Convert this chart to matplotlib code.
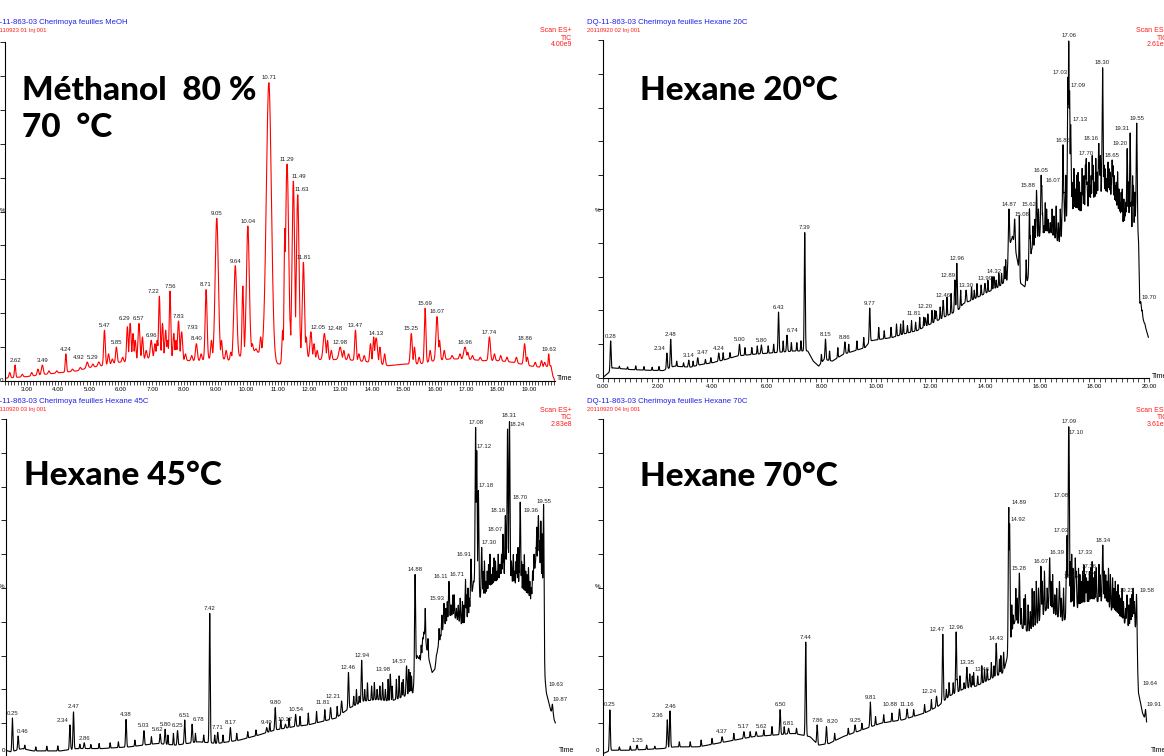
import numpy as np
import matplotlib.pyplot as plt
from matplotlib.ticker import MultipleLocator, FormatStrFormatter

W, H = 1164, 756
SMALL = 'Liberation Sans'

# ---------------- Méthanol 80 %, 70 °C (red trace) ----------------
meoh_base_t = [2.30, 2.55, 3.0, 3.6, 4.1, 4.6, 5.0, 5.4, 5.9, 6.5, 7.0, 7.5, 8.0, 8.5, 9.0, 9.5,
               10.2, 10.5, 10.9, 11.1, 11.5, 12.0, 12.5, 13.0, 13.5, 14.0, 14.5, 15.0, 15.5,
               16.0, 16.5, 17.0, 17.5, 18.0, 18.5, 19.0, 19.4, 19.7, 19.76, 19.83]
meoh_base_y = [0.8, 1.0, 1.3, 2.0, 2.5, 3.0, 4.0, 4.5, 5.5, 6.0, 7.0, 7.0, 6.0, 6.0, 7.0, 6.0,
               9.0, 8.0, 5.0, 5.0, 8.0, 7.0, 6.0, 6.5, 6.0, 5.5, 4.5, 5.0, 5.0,
               6.0, 6.5, 6.5, 6.0, 6.0, 5.5, 4.5, 4.0, 4.5, 1.5, 0.0]
meoh_peak_t = [2.62, 3.49, 4.24, 4.92, 5.29, 5.47, 5.85, 6.29, 6.57, 6.96, 7.22, 7.56, 7.83, 7.93,
               8.40, 8.71, 9.05, 9.64, 10.04, 10.71, 11.29, 11.49, 11.63, 11.81, 12.05, 12.48,
               12.98, 13.47, 14.13, 15.25, 15.69, 16.07, 16.96, 17.74, 18.86, 19.63]
meoh_peak_h = [4.7, 4.7, 8.0, 5.6, 5.6, 15.0, 10.0, 17.0, 17.0, 12.0, 25.0, 26.5, 17.7, 14.5,
               11.0, 27.0, 48.0, 34.0, 45.7, 88.0, 64.0, 59.0, 55.0, 35.0, 14.5, 14.0,
               10.0, 15.0, 12.7, 14.0, 21.5, 19.0, 10.0, 13.0, 11.0, 8.0]
meoh_peak_w = [0.02, 0.03, 0.02, 0.03, 0.03, 0.025, 0.025, 0.03, 0.03, 0.03, 0.025, 0.025, 0.03, 0.03,
               0.03, 0.03, 0.05, 0.045, 0.045, 0.08, 0.05, 0.04, 0.04, 0.035, 0.03, 0.04,
               0.04, 0.025, 0.04, 0.03, 0.025, 0.035, 0.04, 0.03, 0.03, 0.015]
meoh_minor_t = [2.45, 2.85, 3.15, 3.35, 3.7, 3.95, 4.45, 4.7, 5.1, 5.6, 5.72, 6.05, 6.2, 6.38, 6.45,
                6.68, 6.8, 7.08, 7.15, 7.32, 7.42, 7.48, 7.68, 7.75, 8.05, 8.25, 8.55, 8.88, 8.95,
                9.2, 9.35, 9.5, 9.88, 10.18, 10.3, 10.45, 10.55, 10.62, 10.9, 11.15, 11.22, 11.38,
                11.9, 12.15, 12.25, 12.58, 12.7, 13.1, 13.25, 13.58, 13.75, 13.95, 14.05, 14.25,
                14.4, 15.35, 15.5, 15.85, 16.15, 16.3, 16.55, 16.8, 17.05, 17.2, 17.45, 17.9, 18.1,
                18.3, 18.6, 18.95, 19.2, 19.4, 19.5]
meoh_minor_h = [2.5, 2.0, 2.5, 3.5, 3.0, 3.0, 3.5, 4.0, 5.0, 8.0, 6.5, 7.0, 16.0, 14.0, 12.0,
                13.0, 9.0, 11.0, 12.0, 17.0, 15.0, 12.0, 14.0, 12.0, 8.0, 7.5, 8.0, 12.0, 10.0,
                12.0, 9.0, 8.5, 28.0, 11.0, 9.5, 13.0, 15.0, 18.0, 9.0, 15.0, 45.0, 18.0,
                13.0, 11.0, 9.0, 12.0, 9.0, 9.0, 8.0, 8.0, 7.5, 11.0, 13.0, 10.0,
                8.0, 10.0, 7.0, 9.0, 12.0, 9.0, 7.5, 8.0, 8.5, 7.5, 7.0, 8.0, 7.5,
                7.0, 7.0, 7.0, 5.5, 6.0, 5.5]

# ---------------- Hexane 20 °C ----------------
hex20_base_t = [0.05, 0.2, 0.35, 1.0, 1.6, 2.2, 2.6, 3.2, 3.6, 4.0, 4.5, 4.9, 5.5, 6.3, 7.0, 7.5,
                7.7, 7.9, 8.1, 8.4, 8.8, 9.2, 9.6, 9.8, 10.2, 10.6, 11.0, 11.5, 12.0, 12.5, 13.0,
                13.2, 13.5, 14.0, 14.5, 14.8, 14.85, 15.0, 15.2, 15.3, 15.45, 15.6, 15.7, 16.0,
                16.4, 16.7, 16.8, 16.9, 17.2, 17.5, 17.9, 18.4, 18.8, 19.1, 19.3, 19.4, 19.55,
                19.62, 19.66, 19.8, 19.98]
hex20_base_y = [0.5, 1.5, 3.0, 2.5, 2.3, 2.2, 3.5, 3.2, 4.0, 4.5, 5.5, 6.5, 7.0, 7.5, 8.0, 8.0,
                5.0, 3.5, 5.5, 5.0, 7.0, 8.0, 9.0, 11.0, 11.5, 12.0, 13.0, 14.0, 16.0, 18.0, 20.0,
                22.0, 23.0, 25.0, 27.0, 29.0, 38.0, 42.0, 34.0, 28.0, 27.0, 30.0, 38.0, 42.0,
                43.0, 40.0, 42.0, 46.0, 50.0, 48.0, 52.0, 55.0, 50.0, 45.0, 46.0, 42.0, 48.0,
                40.0, 22.0, 17.0, 12.0]
hex20_peak_t = [0.28, 2.34, 2.48, 3.14, 3.47, 4.24, 5.00, 5.80, 6.43, 6.74, 7.39, 8.15, 8.86,
                9.77, 11.81, 12.20, 12.46, 12.89, 12.96, 13.30, 13.99, 14.32, 14.87, 15.08,
                15.62, 15.88, 16.05, 16.07, 16.85, 17.03, 17.06, 17.09, 17.13, 17.70, 18.16,
                18.30, 18.65, 19.20, 19.31, 19.55, 19.70]
hex20_peak_h = [11.0, 7.4, 11.5, 5.3, 6.0, 7.4, 10.0, 9.8, 19.5, 12.7, 43.0, 11.5, 10.7,
                20.7, 17.8, 19.8, 23.0, 29.0, 34.0, 26.0, 28.0, 30.0, 50.0, 47.0,
                50.0, 55.6, 60.0, 57.0, 69.0, 89.0, 100.0, 85.0, 75.0, 65.0, 69.5,
                92.0, 64.5, 68.0, 72.5, 75.4, 22.5]
hex20_minor_t = [0.6, 0.9, 1.2, 1.5, 1.8, 2.05, 2.7, 2.95, 3.3, 3.75, 3.95, 4.4, 4.65, 5.2, 5.45,
                 5.65, 6.05, 6.25, 6.6, 6.9, 7.1, 7.25, 8.0, 8.3, 8.6, 9.0, 9.3, 9.55, 10.1, 10.3,
                 10.55, 10.75, 10.9, 11.0, 11.15, 11.3, 11.45, 11.6, 11.75, 11.9, 12.05, 12.15,
                 12.35, 12.6, 12.75, 13.1, 13.5, 13.6, 13.7, 13.85, 14.1, 14.25, 14.4, 14.5,
                 14.6, 14.7, 14.75, 15.25, 15.5, 15.65, 15.75, 15.82, 15.95, 16.1, 16.15, 16.2,
                 16.25, 16.3, 16.38, 16.45, 16.52, 16.6, 16.68, 16.75, 16.82, 16.88, 16.95,
                 17.18, 17.25, 17.3, 17.35, 17.4, 17.45, 17.5, 17.55, 17.58, 17.62, 17.67, 17.73,
                 17.8, 17.84, 17.88, 17.92, 17.95, 18.0, 18.05, 18.1, 18.14, 18.19, 18.22, 18.27,
                 18.35, 18.4, 18.45, 18.5, 18.54, 18.58, 18.62, 18.68, 18.72, 18.76, 18.8, 18.85,
                 18.9, 18.94, 18.98, 19.02, 19.08, 19.12, 19.15, 19.25, 19.35, 19.4, 19.43, 19.48,
                 19.52, 19.75, 19.85]
hex20_minor_h = [3.5, 3.3, 3.6, 3.4, 3.2, 3.4, 5.0, 4.5, 5.0, 5.5, 6.0, 7.5, 7.5, 9.0, 9.0,
                 9.5, 9.5, 10.0, 11.0, 10.5, 10.5, 11.0, 7.0, 8.0, 9.0, 10.0, 11.0, 12.0, 15.0, 14.0,
                 15.0, 16.0, 16.0, 17.0, 15.5, 17.0, 16.5, 18.0, 18.0, 19.0, 20.0, 20.0,
                 21.0, 24.0, 25.0, 26.0, 27.0, 26.0, 28.0, 27.5, 29.0, 30.0, 29.0, 31.0,
                 31.0, 33.0, 35.0, 48.0, 35.0, 42.0, 45.0, 47.0, 50.0, 49.0, 45.0, 52.0,
                 50.0, 47.0, 46.0, 50.0, 48.0, 51.0, 46.0, 50.0, 52.0, 55.0, 60.0,
                 58.0, 62.0, 56.0, 60.0, 61.0, 58.0, 55.0, 62.0, 57.0, 60.0, 63.0, 58.0,
                 64.0, 57.0, 60.0, 66.0, 63.0, 58.0, 65.0, 61.0, 60.0, 64.0, 66.0, 60.0,
                 63.0, 62.0, 59.0, 64.0, 62.0, 61.0, 58.0, 63.0, 60.0, 57.0, 58.0, 61.0,
                 56.0, 52.0, 55.0, 56.0, 53.0, 50.0, 52.0, 58.0, 52.0, 60.0, 57.0, 55.0,
                 52.0, 20.0, 16.0]

# ---------------- Hexane 45 °C ----------------
hex45_base_t = [0.0, 0.2, 0.6, 1.0, 2.0, 2.6, 3.5, 4.5, 5.5, 6.2, 7.0, 7.7, 8.5, 9.2, 9.8, 10.5,
                11.0, 11.5, 12.0, 12.5, 13.0, 13.5, 14.0, 14.5, 14.8, 14.95, 15.1, 15.2, 15.35,
                15.5, 15.6, 15.7, 15.9, 16.2, 16.5, 16.7, 16.9, 17.0, 17.3, 17.6, 17.9, 18.2, 18.4,
                18.6, 18.9, 19.1, 19.25, 19.45, 19.52, 19.58, 19.65, 19.8, 19.98]
hex45_base_y = [2.0, 1.5, 2.5, 1.8, 1.8, 2.5, 2.5, 3.0, 4.0, 3.5, 4.5, 4.0, 5.0, 6.5, 8.0, 9.0,
                9.5, 10.5, 11.5, 14.5, 16.5, 17.0, 16.5, 18.0, 19.0, 30.0, 28.0, 37.0, 30.0,
                25.0, 26.0, 32.0, 38.0, 42.0, 40.0, 38.0, 44.0, 52.0, 46.0, 50.0, 52.0, 53.0, 52.0,
                50.0, 48.0, 46.0, 57.0, 56.0, 45.0, 25.0, 19.0, 14.0, 10.0]
hex45_peak_t = [0.25, 0.46, 2.34, 2.47, 2.86, 4.38, 5.03, 5.62, 5.80, 6.25, 6.51, 6.78, 7.42,
                7.71, 8.17, 9.49, 9.80, 10.17, 10.54, 11.81, 12.21, 12.46, 12.94, 13.98, 14.57,
                14.88, 15.93, 16.11, 16.71, 16.91, 17.08, 17.12, 17.18, 17.30, 18.07, 18.16,
                18.24, 18.31, 18.70, 19.36, 19.55, 19.63, 19.87]
hex45_peak_h = [11.6, 6.2, 9.5, 13.4, 4.2, 11.1, 7.8, 6.8, 8.2, 7.8, 11.0, 9.7, 42.5,
                7.3, 8.7, 8.7, 14.6, 9.7, 12.6, 14.6, 16.6, 25.0, 28.6, 24.5, 27.0,
                54.0, 45.5, 52.0, 52.6, 58.5, 97.5, 90.6, 78.8, 62.0, 66.0, 71.4,
                97.0, 99.5, 75.4, 71.4, 74.3, 20.1, 15.6]
hex45_minor_t = [0.7, 1.1, 1.5, 1.9, 2.7, 3.1, 3.4, 3.8, 4.1, 4.7, 5.3, 5.9, 6.1, 6.9, 7.2, 7.6,
                 7.9, 8.4, 8.8, 9.1, 9.6, 10.0, 10.3, 10.7, 11.0, 11.3, 11.6, 12.05, 12.65, 12.75,
                 12.85, 13.05, 13.15, 13.3, 13.4, 13.5, 13.6, 13.7, 13.8, 13.9, 14.05, 14.2, 14.3,
                 14.4, 14.45, 14.65, 14.7, 14.75, 15.05, 15.1, 15.15, 15.25, 15.35, 15.65, 15.75,
                 15.8, 15.85, 15.95, 16.0, 16.05, 16.18, 16.25, 16.3, 16.38, 16.45, 16.52, 16.6,
                 16.65, 16.75, 16.8, 16.85, 17.35, 17.4, 17.45, 17.5, 17.55, 17.6, 17.65, 17.7,
                 17.75, 17.8, 17.85, 17.9, 17.95, 17.98, 18.02, 18.1, 18.2, 18.38, 18.45, 18.5,
                 18.55, 18.58, 18.62, 18.66, 18.75, 18.8, 18.85, 18.9, 18.95, 19.0, 19.05, 19.1,
                 19.15, 19.2, 19.28, 19.3, 19.34, 19.4, 19.45, 19.5, 19.7, 19.9]
hex45_minor_h = [3.5, 3.0, 3.2, 3.3, 3.8, 3.7, 4.0, 4.2, 4.5, 5.0, 6.0, 6.5, 7.0, 7.0, 6.5, 6.5,
                 6.5, 7.0, 7.5, 8.0, 10.0, 11.0, 11.5, 12.0, 13.0, 13.5, 14.0, 15.0, 18.0, 20.0,
                 18.0, 20.0, 22.0, 21.0, 22.0, 20.0, 21.0, 22.0, 20.0, 23.0, 21.0, 23.0, 24.0,
                 22.0, 23.0, 26.0, 25.0, 24.0, 30.0, 33.0, 35.0, 44.0, 35.0, 30.0, 38.0,
                 36.0, 42.0, 40.0, 44.0, 46.0, 45.0, 48.0, 48.0, 44.0, 45.0, 47.0, 46.0,
                 45.0, 48.0, 50.0, 47.0, 55.0, 58.0, 52.0, 55.0, 57.0, 60.0, 54.0, 56.0,
                 59.0, 58.0, 55.0, 60.0, 57.0, 57.0, 60.0, 58.0, 62.0, 58.0, 60.0, 55.0,
                 58.0, 60.0, 62.0, 55.0, 58.0, 57.0, 60.0, 55.0, 54.0, 56.0, 52.0, 50.0,
                 55.0, 60.0, 62.0, 68.0, 66.0, 64.0, 70.0, 66.0, 17.0, 13.0]

# ---------------- Hexane 70 °C ----------------
hex70_base_t = [0.0, 0.3, 1.0, 2.2, 2.6, 3.5, 4.5, 5.5, 6.3, 7.0, 7.6, 7.9, 8.3, 8.8, 9.5, 10.2,
                11.0, 11.8, 12.3, 12.7, 13.2, 13.7, 14.2, 14.7, 14.85, 15.1, 15.4, 15.6, 16.0,
                16.3, 16.6, 16.9, 17.2, 17.5, 17.8, 18.1, 18.4, 18.8, 19.1, 19.3, 19.5, 19.6,
                19.65, 19.8, 19.95]
hex70_base_y = [1.0, 2.0, 2.0, 2.5, 3.0, 3.0, 4.5, 6.0, 6.5, 7.0, 6.0, 3.5, 4.0, 6.0, 8.0, 10.0,
                11.0, 13.0, 15.0, 18.0, 20.0, 21.0, 23.0, 25.0, 30.0, 40.0, 38.0, 37.0, 40.0,
                44.0, 42.0, 40.0, 44.0, 44.0, 45.0, 46.0, 46.0, 42.0, 40.0, 38.0, 42.0, 30.0,
                19.0, 13.0, 10.0]
hex70_peak_t = [0.25, 1.25, 2.36, 2.46, 4.37, 5.17, 5.62, 6.50, 6.81, 7.44, 7.86, 8.20, 9.25,
                9.81, 10.88, 11.16, 12.24, 12.47, 12.96, 13.35, 13.46, 14.43, 14.89, 14.92,
                15.28, 16.07, 16.39, 16.75, 17.03, 17.08, 17.09, 17.10, 17.33, 17.36, 17.74,
                18.34, 19.23, 19.58, 19.64, 19.91]
hex70_peak_h = [14.0, 3.5, 11.0, 13.6, 6.0, 7.5, 7.5, 14.0, 8.5, 34.0, 9.5, 9.0, 9.5,
                16.3, 14.2, 14.2, 18.0, 36.4, 37.0, 26.6, 24.6, 33.7, 74.0, 69.0,
                54.4, 56.5, 59.0, 52.0, 65.7, 76.0, 98.0, 94.7, 59.0, 55.0, 53.0,
                62.7, 48.0, 48.0, 20.4, 14.0]
hex70_minor_t = [0.6, 1.0, 1.6, 1.9, 2.8, 3.2, 3.6, 4.0, 4.8, 5.4, 5.9, 6.2, 6.65, 7.1, 8.5, 9.0,
                 9.5, 10.0, 10.3, 10.6, 11.4, 11.8, 12.05, 12.6, 12.7, 12.85, 13.0, 13.1, 13.25,
                 13.55, 13.6, 13.75, 13.9, 14.0, 14.1, 14.25, 14.35, 14.55, 14.6, 14.7, 15.0, 15.05,
                 15.15, 15.2, 15.35, 15.45, 15.5, 15.6, 15.68, 15.75, 15.82, 15.9, 15.98, 16.12,
                 16.2, 16.3, 16.45, 16.5, 16.58, 16.65, 16.82, 16.9, 17.0, 17.15, 17.2, 17.25,
                 17.45, 17.5, 17.55, 17.6, 17.65, 17.7, 17.8, 17.85, 17.9, 17.95, 18.0, 18.05,
                 18.1, 18.2, 18.25, 18.4, 18.45, 18.5, 18.55, 18.62, 18.7, 18.75, 18.8, 18.85,
                 18.9, 18.95, 19.0, 19.05, 19.1, 19.18, 19.3, 19.35, 19.4, 19.45, 19.5, 19.7, 19.85]
hex70_minor_h = [3.0, 3.2, 3.5, 3.2, 4.5, 4.5, 5.0, 5.5, 7.0, 7.5, 8.0, 9.0, 9.0, 8.5, 7.0, 8.5,
                 10.0, 12.0, 12.5, 13.0, 14.0, 15.5, 17.0, 20.0, 22.0, 22.0, 23.0, 24.0, 22.0,
                 24.0, 25.0, 24.0, 27.0, 26.0, 26.0, 28.0, 27.0, 29.0, 30.0, 31.0, 45.0, 42.0,
                 50.0, 47.0, 44.0, 47.0, 48.0, 45.0, 43.0, 50.0, 49.0, 52.0, 50.0, 52.0,
                 55.0, 50.0, 52.0, 54.0, 48.0, 50.0, 47.0, 50.0, 55.0, 58.0, 60.0, 56.0,
                 56.0, 54.0, 52.0, 55.0, 57.0, 54.0, 52.0, 55.0, 56.0, 58.0, 53.0, 55.0,
                 56.0, 57.0, 54.0, 55.0, 54.0, 52.0, 56.0, 54.0, 53.0, 50.0, 52.0, 49.0,
                 51.0, 48.0, 47.0, 50.0, 46.0, 44.0, 45.0, 47.0, 48.0, 50.0, 46.0, 15.0, 12.0]

# label shifts (pixels) where the instrument moved a retention-time tag sideways
meoh_nudge = {'4.92': -9, '5.29': -6, '6.29': -6, '7.22': -6, '7.93': 11, '11.49': 6,
              '11.63': 4, '12.05': 7, '12.48': 11}
hex20_nudge = {'17.03': -8, '17.09': 9, '17.13': 9, '16.07': 11, '15.88': -8, '15.08': 7,
               '18.16': -8, '19.20': -7, '19.31': -8, '19.70': 8, '12.89': -7, '12.20': -11,
               '11.81': -12, '2.34': -7, '3.47': 5, '6.74': 6}
hex45_nudge = {'0.46': 4, '2.34': -7, '5.62': -3, '6.78': 6, '11.81': -8, '12.21': -8,
               '13.98': -7, '14.57': -7, '15.93': -7, '16.11': -8, '16.71': -8, '16.91': -7,
               '17.12': 7, '17.18': 8, '17.30': 7, '18.07': -8, '18.16': -7, '18.24': 10,
               '19.36': -7, '19.63': 10, '19.87': 8}
hex70_nudge = {'17.03': -6, '17.08': -7, '17.10': 7, '17.33': 10, '17.36': 13, '17.74': 3,
               '16.39': 7, '16.75': 12, '14.89': 10, '14.92': 9, '13.46': 12, '12.47': -6,
               '12.24': -7, '10.88': -9, '8.20': 6, '5.62': 5, '2.36': -10, '19.58': 10,
               '19.64': 12, '19.91': 9}


def build_trace(t, base_t, base_y, pk_t, pk_h, pk_w):
    base = np.interp(t, base_t, base_y)
    y = base.copy()
    for tc, h, w in zip(pk_t, pk_h, pk_w):
        rise = (h - np.interp(tc, base_t, base_y)) * np.exp(-0.5 * ((t - tc) / w) ** 2)
        y = np.maximum(y, base + rise)
    return y


fig = plt.figure(figsize=(W / 100, H / 100), dpi=100)


def ftext(x, y, s, **kw):
    fig.text(x / W, 1 - y / H, s, **kw)


def panel(box, xlim, major, minor, color, base_t, base_y, pk_t, pk_h, pk_w,
          mn_t, mn_h, mn_w, nudge, show_times=True):
    left, top, right, bottom = box
    ax = fig.add_axes([left / W, 1 - bottom / H, (right - left) / W, (bottom - top) / H])
    ax.patch.set_alpha(0)
    t = np.arange(base_t[0], base_t[-1], 0.004)
    pk_w = list(np.broadcast_to(pk_w, len(pk_t)))
    y = build_trace(t, base_t, base_y, list(pk_t) + list(mn_t), list(pk_h) + list(mn_h),
                    pk_w + [mn_w] * len(mn_t))
    ax.plot(t, y, color=color, lw=0.8)
    for tc, h in zip(pk_t, pk_h):
        lbl = f'{tc:.2f}'
        ax.annotate(lbl, (tc, h), xytext=(nudge.get(lbl, 0) * 0.72, 1.6),
                    textcoords='offset points', ha='center', va='bottom',
                    fontsize=4.3, family=SMALL, color='#222222', annotation_clip=False)
    ax.set_xlim(xlim)
    ax.set_ylim(0, 100)
    ax.set_yticks(np.arange(0, 101, 10))
    ax.yaxis.set_ticklabels([])
    ax.xaxis.set_major_locator(MultipleLocator(major))
    ax.xaxis.set_minor_locator(MultipleLocator(minor))
    ax.xaxis.set_major_formatter(FormatStrFormatter('%.2f'))
    ax.tick_params(axis='x', which='both', direction='out', length=3, width=0.5,
                   labelsize=4.4, pad=1.5, labelbottom=show_times)
    ax.tick_params(axis='y', direction='out', length=3.5, width=0.6)
    for lab in ax.get_xticklabels():
        lab.set_family(SMALL)
    for s in ('top', 'right'):
        ax.spines[s].set_visible(False)
    for s in ('left', 'bottom'):
        ax.spines[s].set_linewidth(0.8)
    return ax


panel((5, 42, 555, 381), (2.30, 19.83), 1.0, 0.1, '#ff0000',
      meoh_base_t, meoh_base_y, meoh_peak_t, meoh_peak_h, meoh_peak_w,
      meoh_minor_t, meoh_minor_h, 0.025, meoh_nudge)
panel((603, 40, 1149, 378), (0, 20), 2.0, 0.2, 'black',
      hex20_base_t, hex20_base_y, hex20_peak_t, hex20_peak_h, 0.018,
      hex20_minor_t, hex20_minor_h, 0.012, hex20_nudge)
panel((5.5, 419, 556, 757), (0, 20), 2.0, 0.2, 'black',
      hex45_base_t, hex45_base_y, hex45_peak_t, hex45_peak_h, 0.018,
      hex45_minor_t, hex45_minor_h, 0.012, hex45_nudge, show_times=False)
panel((603, 419, 1148, 757), (0, 20), 2.0, 0.2, 'black',
      hex70_base_t, hex70_base_y, hex70_peak_t, hex70_peak_h, 0.018,
      hex70_minor_t, hex70_minor_h, 0.012, hex70_nudge, show_times=False)

# instrument headers
blue, red = '#2020e8', '#ff1a1a'
headers = [
    (-12, 22, 'DQ-11-863-03 Cherimoya feuilles MeOH', -7, '20110923 01 Inj 001', 572, '4.00e9'),
    (587, 22, 'DQ-11-863-03 Cherimoya feuilles Hexane 20C', 587, '20110920 02 Inj 001', 1168, '2.61e8'),
    (-12, 401, 'DQ-11-863-03 Cherimoya feuilles Hexane 45C', -7, '20110920 03 Inj 001', 572, '2.83e8'),
    (587, 401, 'DQ-11-863-03 Cherimoya feuilles Hexane 70C', 587, '20110920 04 Inj 001', 1168, '3.61e8'),
]
for bx, by, btxt, rx, rtxt, sx, scale in headers:
    ftext(bx, by, btxt, color=blue, fontsize=5.6, family=SMALL, va='center')
    ftext(rx, by + 8.5, rtxt, color=red, fontsize=4.2, family=SMALL, va='center')
    ftext(sx, by + 9, 'Scan ES+', color=red, fontsize=5, family=SMALL, va='center', ha='right')
    ftext(sx, by + 16, 'TIC', color=red, fontsize=5, family=SMALL, va='center', ha='right')
    ftext(sx, by + 23, scale, color=red, fontsize=5, family=SMALL, va='center', ha='right')

# axis captions
for x, y in [(3, 211), (598, 210), (2, 587), (598, 587)]:
    ftext(x, y, '%', fontsize=4.5, family=SMALL, va='center', ha='center')
for x, y in [(2, 380), (597, 377), (3, 751), (598, 751)]:
    ftext(x, y, '0', fontsize=4.5, family=SMALL, va='center', ha='center')
for x, y in [(557, 379), (1152, 377), (559, 751), (1151, 751)]:
    ftext(x, y, 'Time', fontsize=5, family=SMALL, va='center', ha='left')

# large sample captions
big = dict(fontsize=24, fontweight='black', family=['Lato', 'DejaVu Sans'],
           va='baseline', color='black')
ftext(22, 100, 'Méthanol  80 %', **big)
ftext(22, 137, '70  °C', **big)
ftext(640, 100, 'Hexane 20°C', **big)
ftext(24, 485, 'Hexane 45°C', **big)
ftext(640, 486, 'Hexane 70°C', **big)

fig.savefig('out.png', dpi=100)
